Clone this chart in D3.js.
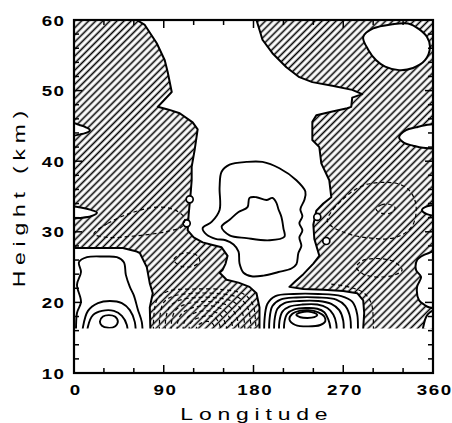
<!DOCTYPE html>
<html><head><meta charset="utf-8">
<script src="https://cdn.jsdelivr.net/npm/d3@7"></script>
<style>body{margin:0;background:#fff}svg{display:block}</style>
</head><body>
<script>
// ---------- axes ----------
const xTickValues = [0, 90, 180, 270, 360];
const xTickLabels = ["0", "90", "180", "270", "360"];
const xMinorTickValues = [30, 60, 120, 150, 210, 240, 300, 330];
const yTickValues = [10, 20, 30, 40, 50, 60];
const yTickLabels = ["10", "20", "30", "40", "50", "60"];
const yMinorTickValues = [12,14,16,18,22,24,26,28,32,34,36,38,42,44,46,48,52,54,56,58];
const xTitle = "Longitude";
const yTitle = "Height (km)";
const dataBottom = 16.3; // lowest height (km) of the analysed field

// ---------- negative (hatched) areas, outlined by the zero contour [lon, km] ----------
const negWest = [[-5,62],[63,62],[63,60],[71,59.3],[83,56.7],[91,54.3],[94,52.6],[98,49.8],[90,48.6],[84,47.7],
  [95,47.3],[106,46.8],[119,45.5],[124,44.5],[121,41.6],[118,39.2],[118,37.3],[117,35.5],[116,34],[115,32.5],
  [114,30.2],[120,29.2],[129,28.5],[140,28.1],[148,27.8],[154,26.6],[152,25.5],[149,24.6],[146,24.2],[153,23.2],
  [165,22.8],[176,22.2],[183,21.3],[186,19.3],[186,14],[77,14],[76,19.3],[79,21.3],[76,22.7],[73,25],[66,27],
  [63,27.2],[49,27.7],[-5,27.7]];
const negEast = [[183,62],[183,60],[189,57.2],[199,55.3],[213,53.3],[226,51.9],[239,51.2],[259,50.7],[279,50.1],
  [289,49.5],[279,49.0],[278,47.7],[274,47.5],[258,47.0],[243,46.5],[239,45.6],[239,43],[246,42],[248,39.7],
  [256,37.3],[258,34.9],[250,34.0],[243,33.0],[240,31.0],[241,29.0],[246,26.6],[240,25.5],[230,24.0],[222,23.0],
  [216,22.2],[230,21.9],[250,21.8],[270,21.6],[284,21.3],[290,20.3],[291,18.5],[290,16.3],[290,14],[365,14],[365,62]];

// ---------- positive pockets inside the hatched areas ----------
const pocketWestUpper = [[-3,45.4],[6,45.1],[12,44.8],[16,44.4],[12,44.0],[6,43.8],[-3,43.7]];
const pocketWestLower = [[-3,33.5],[8,33.4],[17,33.1],[23,32.7],[17,32.2],[8,32.0],[-3,32.0]];
const pocketEastTop = [[290,57.6],[300,58.8],[319,59.4],[335,59.5],[346,58.7],[354,57.6],[357,56.2],[352,54.3],
  [340,53.2],[326,52.9],[312,53.4],[303,54.3],[295,55.8]];
const pocketEastMid = [[326,43.4],[333,44.4],[343,44.8],[352,45.1],[363,45.1],[363,42.0],[350,41.9],[340,42.2],[331,42.6]];
const pocketEastNotch = [[349,33.1],[354,33.6],[363,33.7],[363,32.4],[354,32.5]];
const pocketEastLow = [[363,27.2],[356,27.0],[348,26.5],[344,26.0],[343,24.6],[348,23.6],[344,22.2],[346,20.3],
  [352,19.6],[356,19.3],[363,19.3]];
const pocketEastBottom = [[363,18.9],[357,18.6],[353,17.9],[351,17.0],[350,15.5],[363,15.5]];
const pocketCircles = [[116,34.6],[113,31.2],[244,32.1],[253,28.7]];

// ---------- positive contours (solid) ----------
const posCentralOuter = [[148,38.5],[156,39.5],[173,39.9],[189,39.9],[206,39.0],[223,37.3],[232,35.7],[231,34.5],
  [227,33.2],[229,32.2],[226,31.2],[229,30.2],[226,29.2],[228,28],[225,27],[223,25.4],[218,24.8],[205,24.3],
  [190,23.8],[178,23.7],[170,24.2],[166,25.5],[165,27.2],[160,28.2],[152,28.8],[142,29.0],[133,29.6],[129,30.5],
  [138,31.4],[146,33.1],[146,36.3]];
const posCentralInner = [[148,30.7],[156,31.7],[165,32.8],[174,33.5],[176,34.8],[183,34.9],[193,34.5],[199,34.8],
  [203,34.1],[205,33.2],[208,32.1],[210,30.5],[211,29.3],[196,28.8],[173,29.1],[156,29.5]];
const posWest1 = [[2,14],[2,16.3],[3,18.5],[7,20.1],[3,22.5],[7,24.3],[5,25.7],[13,26.4],[30,26.5],[43,26.4],
  [50,25.7],[52,23.9],[56,22.2],[60,21],[64,19],[68,17.2],[69,14]];
const posWest2 = [[8,14],[9,16.5],[14,18.8],[24,19.9],[36,20.2],[48,19.9],[56,18.9],[61,17.2],[62,14]];
const posWest3 = [[13,14],[14,16.6],[19,18.2],[28,18.8],[40,18.8],[48,18.1],[53,16.8],[54,14]];
const posWest4 = [[26,17.3],[29,18.0],[35,18.2],[41,18.0],[44,17.3],[41,16.6],[34,16.4],[28,16.7]];
const posEast1 = [[191,14],[191,17.5],[194,19.8],[202,20.9],[220,21.2],[245,21.2],[268,20.9],[279,20.1],[284,18.3],[284,14]];
const posEast2 = [[196,14],[196,17.5],[199,19.5],[207,20.4],[223,20.7],[245,20.7],[263,20.4],[272,19.5],[277,17.8],[277,14]];
const posEast3 = [[201,14],[201,17.4],[204,19.1],[211,19.9],[226,20.2],[245,20.2],[258,19.8],[266,18.9],[270,17.4],[270,14]];
const posEast4 = [[206,14],[206,17.3],[209,18.7],[216,19.4],[229,19.7],[244,19.7],[254,19.2],[260,18.3],[263,17],[263,14]];
const posEast5 = [[211,14],[211,17.2],[214,18.4],[221,19.0],[232,19.2],[244,19.1],[251,18.6],[255,17.6],[257,16.5],[257,14]];
const posEast6 = [[216,17.6],[219,18.4],[226,18.8],[235,18.9],[245,18.6],[251,18.0],[252,17.3],[247,16.8],[235,16.6],[222,16.8]];
const posEast7 = [[223,18.25],[228,18.6],[235,18.7],[241,18.5],[244,18.2],[241,17.9],[234,17.8],[227,17.9]];

// ---------- negative contours (dashed) ----------
const negWestOval = [[20,29.7],[34,31.2],[58,32.7],[84,33.5],[101,33.1],[111,31.9],[108,30.7],[95,30.1],[84,29.8],[60,29.4],[34,29.2]];
const negWestSmall = [[100,26],[106,26.8],[115,27.0],[124,26.6],[126,25.8],[119,25.1],[108,25.1]];
const negEastOval = [[254,31.6],[260,33.2],[269,34.5],[280,35.8],[293,36.7],[310,37.0],[325,36.8],[336,35.9],[342,34.4],
  [343,32.6],[339,30.8],[328,29.5],[314,29.0],[298,29.1],[283,29.4],[269,30.0],[259,30.7]];
const negEastSmall = [[303,33.2],[308,33.8],[316,33.9],[322,33.4],[318,32.7],[309,32.6]];
const negEastLower = [[283,25.0],[289,25.9],[300,26.2],[313,26.1],[323,25.6],[329,24.6],[322,23.9],[309,23.6],[297,23.7],[289,24.1]];
const negEastArc = [[258,22.6],[278,22.1],[291,21.3],[298,19.9],[300,18],[300,14]];
const negLobe1 = [[80,14],[80,18],[84,20.6],[95,21.6],[120,21.9],[150,21.8],[170,21.2],[179,19.8],[182,17.5],[182,14]];
const negLobe2 = [[86,14],[86,17.8],[90,20],[100,20.9],[122,21.3],[148,21.2],[166,20.6],[174,19.3],[177,17.3],[177,14]];
const negLobe3 = [[92,14],[92,17.6],[96,19.4],[106,20.3],[124,20.7],[146,20.6],[161,20.0],[168,18.8],[171,17],[171,14]];
const negLobe4 = [[98,14],[98,17.4],[102,18.9],[111,19.7],[126,20.1],[144,20.0],[156,19.4],[162,18.3],[165,16.8],[165,14]];
const negLobe5 = [[104,14],[104,17.2],[108,18.4],[116,19.1],[128,19.5],[142,19.4],[151,18.8],[156,17.8],[159,16.6],[159,14]];
const negLobe6 = [[110,14],[110,17],[114,17.9],[121,18.5],[130,18.8],[140,18.7],[147,18.2],[151,17.3],[153,16.4],[153,14]];
const negLobe7 = [[116,14],[116,16.8],[120,17.5],[127,17.9],[134,18.1],[141,17.9],[145,17.2],[147,16.2],[147,14]];
const negLobe8 = [[122,14],[123,16.5],[128,17.1],[134,17.3],[139,17.0],[141,16.3],[141,14]];

// ---------- drawing ----------
const W = 452, H = 423;
const x = d3.scaleLinear().domain([0, 360]).range([74, 433]);
const y = d3.scaleLinear().domain([10, 60]).range([373, 20]);

const svg = d3.select("body").append("svg").attr("width", W).attr("height", H);
const defs = svg.append("defs");
const pat = defs.append("pattern").attr("id", "hatch").attr("patternUnits", "userSpaceOnUse")
  .attr("width", 5).attr("height", 5).attr("patternTransform", "rotate(45)");
pat.append("rect").attr("width", 5).attr("height", 5).attr("fill", "#fff");
pat.append("line").attr("x1", 2.5).attr("y1", -1).attr("x2", 2.5).attr("y2", 6)
  .attr("stroke", "#000").attr("stroke-width", 1.6);
defs.append("clipPath").attr("id", "clip").append("rect")
  .attr("x", x(0)).attr("y", y(60)).attr("width", x(360) - x(0)).attr("height", y(dataBottom) - y(60));

const linClosed = d3.line().x(d => x(d[0])).y(d => y(d[1])).curve(d3.curveLinearClosed);
const smoothClosed = d3.line().x(d => x(d[0])).y(d => y(d[1])).curve(d3.curveCatmullRomClosed.alpha(0.5));
const smoothOpen = d3.line().x(d => x(d[0])).y(d => y(d[1])).curve(d3.curveCatmullRom.alpha(0.5));

const plot = svg.append("g").attr("clip-path", "url(#clip)");

// hatched negative regions
plot.selectAll("path.neg").data([negWest, negEast]).join("path").attr("class", "neg")
  .attr("d", linClosed).attr("fill", "url(#hatch)").attr("stroke", "#000").attr("stroke-width", 2)
  .attr("stroke-linejoin", "round");

// positive pockets
plot.selectAll("path.pocket").data([pocketWestUpper, pocketWestLower, pocketEastTop, pocketEastMid,
  pocketEastNotch, pocketEastLow, pocketEastBottom]).join("path").attr("class", "pocket")
  .attr("d", smoothClosed).attr("fill", "#fff").attr("stroke", "#000").attr("stroke-width", 2);
plot.selectAll("circle.pocket").data(pocketCircles).join("circle").attr("class", "pocket")
  .attr("cx", d => x(d[0])).attr("cy", d => y(d[1])).attr("r", 3.5)
  .attr("fill", "#fff").attr("stroke", "#000").attr("stroke-width", 1.7);

// negative dashed contours
const dashStyle = s => s.attr("fill", "none").attr("stroke", "#000").attr("stroke-width", 1.2)
  .attr("stroke-dasharray", "4,3");
plot.selectAll("path.negc").data([negWestOval, negWestSmall, negEastOval, negEastSmall, negEastLower])
  .join("path").attr("class", "negc").attr("d", smoothClosed).call(dashStyle);
plot.selectAll("path.nego").data([negEastArc, negLobe1, negLobe2, negLobe3, negLobe4, negLobe5, negLobe6, negLobe7, negLobe8])
  .join("path").attr("class", "nego").attr("d", smoothOpen).call(dashStyle);

// positive solid contours
const solidStyle = s => s.attr("fill", "none").attr("stroke", "#000").attr("stroke-width", 1.9)
  .attr("stroke-linejoin", "round");
plot.selectAll("path.posc").data([posCentralOuter, posCentralInner, posWest4, posEast6, posEast7])
  .join("path").attr("class", "posc").attr("d", smoothClosed).call(solidStyle);
plot.selectAll("path.poso").data([posWest1, posWest2, posWest3, posEast1, posEast2, posEast3, posEast4, posEast5])
  .join("path").attr("class", "poso").attr("d", smoothOpen).call(solidStyle);

// frame
svg.append("rect").attr("x", x(0)).attr("y", y(60)).attr("width", x(360) - x(0)).attr("height", y(10) - y(60))
  .attr("fill", "none").attr("stroke", "#000").attr("stroke-width", 2.2);

// ticks (inward, all four sides)
const tk = svg.append("g").attr("stroke", "#000").attr("stroke-width", 1.5);
const xt = xTickValues.slice(1, -1).map(v => [v, 8]).concat(xMinorTickValues.map(v => [v, 5]));
xt.forEach(([v, L]) => {
  tk.append("line").attr("x1", x(v)).attr("x2", x(v)).attr("y1", y(10)).attr("y2", y(10) - L);
  tk.append("line").attr("x1", x(v)).attr("x2", x(v)).attr("y1", y(60)).attr("y2", y(60) + L);
});
const yt = yTickValues.slice(1, -1).map(v => [v, 8]).concat(yMinorTickValues.map(v => [v, 5]));
yt.forEach(([v, L]) => {
  tk.append("line").attr("y1", y(v)).attr("y2", y(v)).attr("x1", x(0)).attr("x2", x(0) + L);
  tk.append("line").attr("y1", y(v)).attr("y2", y(v)).attr("x1", x(360)).attr("x2", x(360) - L);
});

// tick labels
const font = "'Liberation Sans', Arial, sans-serif";
xTickValues.forEach((v, i) => {
  svg.append("g").attr("transform", `translate(${x(v) + 1},395) scale(1.25,1)`)
    .append("text").text(xTickLabels[i]).attr("text-anchor", "middle")
    .attr("font-family", font).attr("font-weight", "bold").attr("font-size", 15)
    .attr("letter-spacing", 1.2).attr("dx", 0.6);
});
yTickValues.forEach((v, i) => {
  svg.append("g").attr("transform", `translate(64,${y(v) + 5.5}) scale(1.25,1)`)
    .append("text").text(yTickLabels[i]).attr("text-anchor", "end")
    .attr("font-family", font).attr("font-weight", "bold").attr("font-size", 15)
    .attr("letter-spacing", 1.2).attr("dx", 1.2);
});

// axis titles
svg.append("g").attr("transform", `translate(254,420) scale(1.35,1)`)
  .append("text").text(xTitle).attr("text-anchor", "middle").attr("font-family", font)
  .attr("font-size", 17).attr("letter-spacing", 4.3).attr("dx", 2.1);
svg.append("g").attr("transform", `translate(25,199) rotate(-90) scale(1.35,1)`)
  .append("text").text(yTitle).attr("text-anchor", "middle").attr("font-family", font)
  .attr("font-size", 17).attr("letter-spacing", 4.3).attr("dx", 2.1);
</script>
</body></html>
